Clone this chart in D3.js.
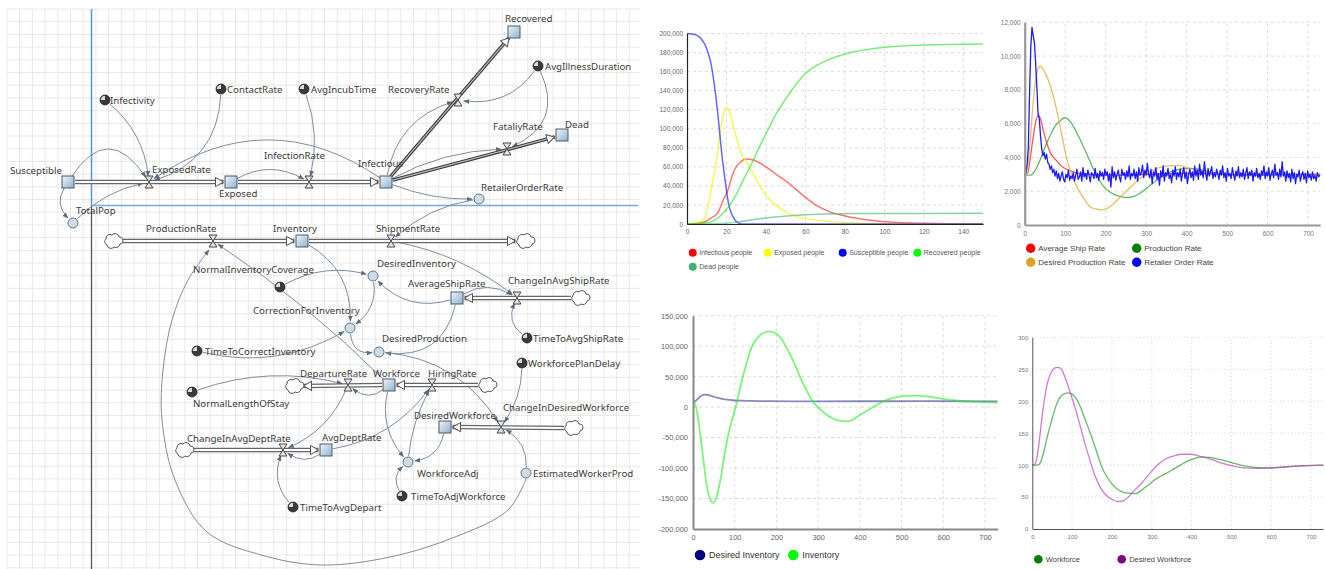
<!DOCTYPE html>
<html><head><meta charset="utf-8">
<script src="https://cdn.jsdelivr.net/npm/d3@7"></script>
<style>
html,body{margin:0;padding:0;background:#fff;}
svg{display:block;}
</style></head><body>
<svg id="c" width="1325" height="569"></svg>
<script>
// ================= DIAGRAM DATA =================
const stocks = [
 ["Susceptible",68,182],["Exposed",231,182],["Infectious",386,182],["Recovered",514,32],["Dead",562,135],
 ["Inventory",302,241],["AverageShipRate",457,298],["Workforce",389,385],["DesiredWorkforce",445,427],["AvgDeptRate",326,450]
];
const valves = [
 ["ExposedRate",149,182],["InfectionRate",309,182],["RecoveryRate",458,100],["FataliyRate",507,149],
 ["ProductionRate",213,241],["ShipmentRate",391,241],["ChangeInAvgShipRate",517,298],
 ["DepartureRate",348,385],["HiringRate",432,385],["ChangeInDesiredWorkforce",501,427],["ChangeInAvgDeptRate",283,450]
];
const converters = [
 ["TotalPop",73,223],["RetailerOrderRate",479,199],["DesiredInventory",373,276],["CorrectionForInventory",350,328],
 ["DesiredProduction",379,352],["WorkforceAdj",408,462],["EstimatedWorkerProd",526,473]
];
const constants = [
 ["Infectivity",105,100],["ContactRate",221,89],["AvgIncubTime",304,89],["AvgIllnessDuration",538,66],
 ["NormalInventoryCoverage",280,287],["TimeToCorrectInventory",197,351],["TimeToAvgShipRate",527,338],
 ["WorkforcePlanDelay",522,363],["NormalLengthOfStay",192,392],["TimeToAdjWorkforce",402,496],["TimeToAvgDepart",293,507]
];
const clouds = [["c1",113,241],["c2",525,241],["c3",580,298],["c4",294,386],["c5",487,385],["c6",573,428],["c7",184,450]];
const diagramLabels = [
 ["Susceptible",10,174],["ExposedRate",152,173],["Exposed",219,197],["Infectivity",110,104],["ContactRate",227,93],
 ["AvgIncubTime",311,93],["InfectionRate",264,159],["Infectious",358,167],["Recovered",505,22],["AvgIllnessDuration",545,69.5],
 ["RecoveryRate",388,93],["FataliyRate",493,130],["Dead",565,128],["RetailerOrderRate",481,191],["TotalPop",76,214],
 ["ProductionRate",146,232],["Inventory",273,232],["ShipmentRate",376,232],["NormalInventoryCoverage",193,273],
 ["DesiredInventory",377,267],["AverageShipRate",408,287],["ChangeInAvgShipRate",508,284],["CorrectionForInventory",253,314],
 ["TimeToAvgShipRate",533,342],["DesiredProduction",382,342],["TimeToCorrectInventory",205,354.5],["WorkforcePlanDelay",528,366.5],
 ["DepartureRate",300,377],["Workforce",373,377],["HiringRate",428,377],["NormalLengthOfStay",193,407],
 ["DesiredWorkforce",414,419],["ChangeInDesiredWorkforce",503,411],["ChangeInAvgDeptRate",187,442],["AvgDeptRate",322,440.5],
 ["WorkforceAdj",417,477],["EstimatedWorkerProd",533,477],["TimeToAdjWorkforce",411,500],["TimeToAvgDepart",300,511]
];
const pipes = [["Susceptible","Exposed"],["Exposed","Infectious"],["Infectious","Recovered"],["Infectious","Dead"],
 ["c1","Inventory"],["Inventory","c2"],["c3","AverageShipRate"],["Workforce","c4"],["c5","Workforce"],
 ["c6","DesiredWorkforce"],["c7","AvgDeptRate"]];
const links = [
 ["Susceptible","ExposedRate",0.75],["Infectivity","ExposedRate",0.2],["ContactRate","ExposedRate",0.35],
 ["TotalPop","ExposedRate",0.15],["Susceptible","TotalPop",-0.4],["Infectious","ExposedRate",-0.34],
 ["Exposed","InfectionRate",0.28],["AvgIncubTime","InfectionRate",0.15],["Infectious","RecoveryRate",0.3],
 ["AvgIllnessDuration","RecoveryRate",0.3],["AvgIllnessDuration","FataliyRate",0.5],["Infectious","FataliyRate",0.12],
 ["Infectious","RetailerOrderRate",-0.1],["RetailerOrderRate","ShipmentRate",-0.15],["Inventory","CorrectionForInventory",0.3],
 ["NormalInventoryCoverage","DesiredInventory",0.2],["AverageShipRate","DesiredInventory",0.3],
 ["DesiredInventory","CorrectionForInventory",0.3],["TimeToCorrectInventory","CorrectionForInventory",-0.2],
 ["CorrectionForInventory","DesiredProduction",-0.5],["AverageShipRate","DesiredProduction",0.45],
 ["Workforce","ProductionRate",-0.05],["DesiredProduction","ChangeInDesiredWorkforce",0.25],
 ["EstimatedWorkerProd","ChangeInDesiredWorkforce",-0.3],["WorkforcePlanDelay","ChangeInDesiredWorkforce",0.15],
 ["DesiredWorkforce","WorkforceAdj",0.35],["Workforce","WorkforceAdj",-0.25],["WorkforceAdj","HiringRate",0.1],
 ["AvgDeptRate","HiringRate",-0.2],["TimeToAdjWorkforce","WorkforceAdj",0.4],["Workforce","DepartureRate",0.4],
 ["NormalLengthOfStay","DepartureRate",0.15],["DepartureRate","ChangeInAvgDeptRate",0.2],
 ["AvgDeptRate","ChangeInAvgDeptRate",0.35],["TimeToAvgDepart","ChangeInAvgDeptRate",0.3],
 ["ShipmentRate","ChangeInAvgShipRate",0.12],["AverageShipRate","ChangeInAvgShipRate",0.3],
 ["TimeToAvgShipRate","ChangeInAvgShipRate",0.4]
];
const bigArcWaypoints = [[526,479],[508,510],[455,537],[390,557],[322,565],[265,556],[207,532],[175,480],[162,420],[163,370],[172,320],[188,280],[209,250]];

// ================= CHART DATA =================
// Chart 1 (SEIR)
const chart1Names = ["Infectious people","Exposed people","Susceptible people","Recovered people","Dead people"];
const chart1Colors = ["#ff0000","#ffff00","#0000ff","#00ff00","#3cb371"];
const infectious = [[0,0],[6,700],[9,2400],[12,6000],[15.7,12000],[18.3,25000],[20.8,36000],[22.5,48000],[24.2,57500],[27,65000],[30,68200],[34,67000],[40,60000],[46,51000],[52,42000],[60,28000],[66,19000],[72,13000],[80,8500],[86,6000],[95,3500],[103,2000],[110,1200],[120,700],[134,200],[150,0]];
const exposed = [[0,0],[5,1500],[8,4000],[10,12000],[11.5,28000],[13,45000],[15.2,70000],[16.9,98000],[18.6,116000],[20.3,122500],[21.5,118000],[22.8,109000],[24,98000],[25.4,88000],[27.9,72400],[30.4,64500],[33,55000],[38,36000],[43,23500],[50,13000],[56,7500],[62,5000],[70,3000],[80,1500],[95,500],[110,0],[150,0]];
const susceptible = [[0,200000],[4,199000],[7,195000],[10,184000],[12,170000],[14,144000],[16,108000],[17.6,74000],[19.3,46000],[21,22000],[22.5,11000],[24.4,4000],[26,1000],[28,0],[150,0]];
const recovered = [[0,0],[10,1000],[14,4000],[17.6,10000],[21,18000],[24.2,28000],[28,44000],[32.7,63000],[36,78000],[41.1,99000],[45,115000],[49.6,130000],[55,146000],[60,158000],[69,170000],[81,179000],[94,184000],[103,186000],[120,188000],[150,189000]];
const dead = [[0,0],[15,300],[20,700],[25,1700],[30,3500],[35,5000],[40,6300],[46,7500],[52,8600],[60,9700],[70,10500],[85,11000],[150,11200]];
const chart1XTicks = [0,20,40,60,80,100,120,140];
const chart1YTicks = [0,20000,40000,60000,80000,100000,120000,140000,160000,180000,200000];

// Chart 2 (supply chain rates)
const chart2Names = ["Average Ship Rate","Production Rate","Desired Production Rate","Retailer Order Rate"];
const chart2Colors = ["#ff0000","#008000","#daa520","#0000ff"];
const averageShipRate = [[0,3000],[8,3100],[13,3850],[21,5200],[28,6200],[34,6500],[40,6200],[46,5600],[54,4900],[63,4300],[71,4000],[79,3800],[90,3500],[104,3300],[120,3150],[137,3050],[160,3000],[200,2950],[260,2950],[300,3000],[400,3050],[500,3000],[730,3000]];
const productionRate = [[0,3000],[8,2950],[15,2950],[25,3200],[38,3850],[50,4600],[63,5300],[75,5850],[87,6150],[98,6350],[110,6200],[120,5850],[133,5250],[145,4650],[158,3950],[170,3300],[182,2750],[194,2300],[210,1950],[227,1750],[243,1650],[256,1630],[270,1700],[285,1880],[305,2250],[326,2650],[346,2980],[367,3200],[388,3320],[410,3350],[430,3300],[450,3180],[480,3050],[520,2950],[570,2930],[620,2970],[730,3000]];
const desiredProductionRate = [[0,3000],[6,3300],[13,4800],[20,7000],[26,8400],[32,9200],[39,9400],[46,9200],[58,8600],[70,7700],[79,6800],[92,5300],[104,3900],[116,3000],[128,2300],[145,1600],[161,1100],[175,950],[190,900],[205,1000],[219,1250],[240,1750],[260,2200],[290,2850],[326,3350],[360,3520],[385,3500],[408,3350],[440,3150],[480,3000],[550,2950],[620,3000],[730,3000]];
const retailerTimeStep = 3;
const retailerOrderRate = [3000,3100,3600,4600,7800,10500,11700,11200,10800,9600,8200,6600,6300,5300,4500,4100,4300,3900,4200,3700,3600,3300,3500,3100,3300,2900,3200,
 2750,3050,2600,2900,3150,2700,2550,3000,2800,3250,2650,2900,2750,3100,2600,2950,3300,2700,2850,
 3150,2600,3400,2850,3050,2700,3250,2950,2550,3100,3000,2750,3350,2800,3050,2650,3200,2900,3100,
 2700,3300,2950,3150,2600,3050,2250,3450,2800,3150,2650,3000,3250,2850,2550,3300,2950,3100,2700,
 3200,2850,3500,2700,3050,2900,3300,2750,3150,2600,3400,2950,3100,3550,2800,3250,2950,3650,3000,
 2800,3300,2450,3150,2900,3400,2700,3050,2350,3200,2850,3500,2600,3100,2900,3350,2750,3000,2500,
 3250,2900,3450,2700,3100,2850,3300,2600,3050,3400,2750,3150,2450,3000,3300,2800,3150,2650,3500,
 2900,3250,2700,3600,2950,3200,2800,3750,3050,2650,3350,2900,3150,3450,2750,3100,2850,3300,3000,
 2700,3250,2950,3500,2800,3100,2600,3350,2900,3050,2750,3400,3000,2650,3200,2900,3450,2800,3100,
 2850,3300,2700,3050,3400,2750,3150,2950,3250,2600,3100,2900,3350,2800,3050,2700,3200,2950,3500,
 2750,3150,2900,3400,2650,3050,3250,2800,3600,2950,3100,2700,3300,2850,3750,2900,3150,2600,3200,
 2800,3050,2550,3300,2750,3100,2450,3000,2850,3250,2600,2950,3150,2700,3050,2500,3200,2800,3000,
 2650,3150,2750,2950,2600,3100,2850,2950];
const timeTicks = [0,100,200,300,400,500,600,700];
const chart2YTicks = [0,2000,4000,6000,8000,10000,12000];

// Chart 3 (inventory)
const chart3Names = ["Desired Inventory","Inventory"];
const chart3Colors = ["#000080","#00ff00"];
const desiredInventory = [[0,9500],[5,10000],[10,12500],[16,16500],[22,19500],[28,20500],[34,20000],[42,18800],[50,17000],[60,15000],[70,13500],[82,12200],[95,11300],[112,10700],[140,10200],[180,9700],[250,9500],[400,9600],[550,9700],[730,9500]];
const inventory = [[0,9000],[4,7000],[8,-2000],[12,-18000],[16.8,-42000],[24.8,-86000],[32.8,-128000],[40.8,-150000],[48.7,-157000],[56.7,-147000],[62,-132000],[68.7,-108000],[74,-85000],[80.7,-58000],[88,-35000],[96.7,-14000],[104,5000],[112.7,30000],[120,52000],[128.7,72000],[136,90000],[144.6,104000],[156,115000],[168.6,121500],[180,124000],[188.6,124000],[198,121000],[208.6,115000],[220,103000],[232.5,87000],[244,70000],[256.5,50000],[268,33000],[280.5,17000],[290,7000],[300.5,-1000],[310,-7000],[320.5,-12500],[332,-17500],[344,-21000],[358,-23000],[372,-23500],[385,-20000],[400,-13000],[424,-3000],[440,3500],[456,9300],[472,13500],[488,16400],[510,18300],[536,18800],[560,17500],[585,15000],[616,12000],[640,10500],[656,9300],[680,8500],[700,7800],[730,7500]];
const chart3YTicks = [-200000,-150000,-100000,-50000,0,50000,100000,150000];

// Chart 4 (workforce)
const chart4Names = ["Workforce","Desired Workforce"];
const chart4Colors = ["#008000","#800080"];
const workforce = [[0,100],[10,100],[17,101],[25,112],[32,129],[40,150],[48.6,170],[57,188],[65.3,202],[76,210],[90,213],[98,212],[107,207],[116,198],[124,186],[136,166],[149,144],[162,120],[174,98],[186,83],[199,71.5],[212,63],[224,58.5],[240,56],[256,55.5],[266,57],[275,61],[290,68],[308,77],[330,85],[350,92],[372,100],[392,107],[410,111],[425,113],[445,112],[475,108],[500,104],[526,99.5],[560,96.5],[600,95.5],[640,97],[680,99],[731,100]];
const desiredWorkforce = [[0,100],[6,101],[11,110],[17,135],[23.4,170],[31,205],[40,233],[50,248],[61,253],[70,252],[82,238],[94,216],[107,191],[120,162],[132,134],[145,107],[157,84],[170,66],[181,56],[191,50],[204,45],[216,43],[228,44],[241,50],[256,60],[275,72],[295,87],[316,101],[336,110],[358,115],[377,117],[395,117],[410,116],[425,113],[450,109],[476,103],[500,99],[526,96],[555,95],[585,95.5],[615,96.5],[660,98.5],[731,100]];
const chart4YTicks = [0,50,100,150,200,250,300];

// ================= DRAW DIAGRAM =================
const svg = d3.select("#c");
const defs = svg.append("defs");
defs.append("marker").attr("id","arr").attr("viewBox","0 0 10 10").attr("refX",9).attr("refY",5)
  .attr("markerWidth",6).attr("markerHeight",6).attr("markerUnits","userSpaceOnUse").attr("orient","auto")
  .append("path").attr("d","M0,1L10,5L0,9z").attr("fill","#5b6c7d");
const sg = defs.append("linearGradient").attr("id","sg").attr("x1",0).attr("y1",0).attr("x2",1).attr("y2",1);
sg.append("stop").attr("offset",0).attr("stop-color","#eef5fa");
sg.append("stop").attr("offset",1).attr("stop-color","#8fb1cc");

const dg = svg.append("g");
// grid
const gx = d3.range(7, 641, 12.7), gy = d3.range(9, 570, 12.7);
dg.append("g").attr("stroke","#e3e3e3").attr("stroke-width",0.8).selectAll("line").data(gx).join("line")
  .attr("x1",d=>d).attr("x2",d=>d).attr("y1",9).attr("y2",569);
dg.append("g").attr("stroke","#e3e3e3").attr("stroke-width",0.8).selectAll("line").data(gy).join("line")
  .attr("y1",d=>d).attr("y2",d=>d).attr("x1",7).attr("x2",640);
// origin lines
dg.append("line").attr("x1",91.5).attr("x2",91.5).attr("y1",9).attr("y2",205.5).attr("stroke","#5b9bd5").attr("stroke-width",1.6);
dg.append("line").attr("x1",91.5).attr("x2",91.5).attr("y1",205.5).attr("y2",569).attr("stroke","#555").attr("stroke-width",1.3);
dg.append("line").attr("x1",91.5).attr("x2",638).attr("y1",205.5).attr("y2",205.5).attr("stroke","#7aa7d6").attr("stroke-width",1.6);

const nodes = {};
stocks.forEach(d=>nodes[d[0]]={x:d[1],y:d[2],r:7});
valves.forEach(d=>nodes[d[0]]={x:d[1],y:d[2],r:5});
converters.forEach(d=>nodes[d[0]]={x:d[1],y:d[2],r:6});
constants.forEach(d=>nodes[d[0]]={x:d[1],y:d[2],r:6});
clouds.forEach(d=>nodes[d[0]]={x:d[1],y:d[2],r:9});

function toward(p, q, dist){
  const dx=q[0]-p[0], dy=q[1]-p[1], L=Math.hypot(dx,dy)||1;
  return [p[0]+dx/L*dist, p[1]+dy/L*dist];
}
// links
const lg = dg.append("g").attr("fill","none").attr("stroke","#7d8ea0").attr("stroke-width",1);
links.forEach(([f,t,b])=>{
  const a=nodes[f], c=nodes[t];
  const dx=c.x-a.x, dy=c.y-a.y;
  const cx=(a.x+c.x)/2+b*dy, cy=(a.y+c.y)/2-b*dx;
  const s=toward([a.x,a.y],[cx,cy],a.r), e=toward([c.x,c.y],[cx,cy],c.r+1);
  lg.append("path").attr("d",`M${s[0]},${s[1]}Q${cx},${cy} ${e[0]},${e[1]}`).attr("marker-end","url(#arr)");
});
lg.append("path").datum(bigArcWaypoints).attr("d",d3.line().curve(d3.curveCatmullRom)).attr("marker-end","url(#arr)");

// pipes
const pg = dg.append("g");
pipes.forEach(([f,t])=>{
  const a=nodes[f], c=nodes[t];
  const s=toward([a.x,a.y],[c.x,c.y],a.r), e=toward([c.x,c.y],[a.x,a.y],c.r+0.5);
  const dark = f==="Infectious";
  pg.append("line").attr("x1",s[0]).attr("y1",s[1]).attr("x2",e[0]).attr("y2",e[1]).attr("stroke",dark?"#3a3a3a":"#666").attr("stroke-width",dark?3.4:4.5);
  pg.append("line").attr("x1",s[0]).attr("y1",s[1]).attr("x2",e[0]).attr("y2",e[1]).attr("stroke",dark?"#b8b8b8":"#fff").attr("stroke-width",dark?1.2:2);
  const ang=Math.atan2(e[1]-s[1],e[0]-s[0])*180/Math.PI;
  pg.append("path").attr("transform",`translate(${e[0]},${e[1]}) rotate(${ang})`)
    .attr("d","M0,0L-8,-4.5L-8,4.5Z").attr("fill","#fff").attr("stroke","#555").attr("stroke-width",1);
});
// clouds
dg.append("g").selectAll("path").data(clouds).join("path")
  .attr("transform",d=>`translate(${d[1]},${d[2]})`)
  .attr("d","M-6,4 A3.5,3.5 0 0,1 -7,-2 A4,4 0 0,1 -1,-6 A4,4 0 0,1 6,-4 A3.5,3.5 0 0,1 7,3 A4,4 0 0,1 1,6 A4,4 0 0,1 -6,4 Z")
  .attr("fill","#fff").attr("stroke","#555").attr("stroke-width",1);
// valves
dg.append("g").selectAll("path").data(valves).join("path")
  .attr("transform",d=>`translate(${d[1]},${d[2]})`)
  .attr("d","M-4,-6L4,-6L-4,6L4,6Z").attr("fill","#e6e6e6").attr("stroke","#444").attr("stroke-width",1);
// stocks
dg.append("g").selectAll("rect").data(stocks).join("rect")
  .attr("x",d=>d[1]-6).attr("y",d=>d[2]-6).attr("width",12).attr("height",12)
  .attr("fill","url(#sg)").attr("stroke","#4a5a6a").attr("stroke-width",1);
// converters
dg.append("g").selectAll("circle").data(converters).join("circle")
  .attr("cx",d=>d[1]).attr("cy",d=>d[2]).attr("r",5).attr("fill","#cfdbe5").attr("stroke","#66798b").attr("stroke-width",1);
// constants
const cg = dg.append("g").selectAll("g").data(constants).join("g").attr("transform",d=>`translate(${d[1]},${d[2]})`);
cg.append("circle").attr("r",5).attr("fill","#3a3a3a").attr("stroke","#222").attr("stroke-width",0.8);
cg.append("path").attr("d","M0,0L0,-4.2A4.2,4.2 0 0,0 -4.2,0Z").attr("fill","#dcdcdc");
// labels
dg.append("g").attr("font-family","'Noto Sans', 'Open Sans', sans-serif").attr("font-size",9.7).attr("fill","#3c3c3c")
  .selectAll("text").data(diagramLabels).join("text").attr("x",d=>d[1]).attr("y",d=>d[2]).text(d=>d[0]);

// ================= CHARTS =================
const fmt = v => d3.format(",")(v).replace("\u2212","-");
function drawChart(c){
  const x=d3.scaleLinear().domain(c.xDomain).range(c.xRange);
  const y=d3.scaleLinear().domain(c.yDomain).range(c.yRange);
  const g=svg.append("g");
  g.append("g").attr("stroke",c.gridColor).attr("stroke-width",0.8).attr("stroke-dasharray",c.dash)
    .selectAll("line").data(c.xTicks.filter(t=>t!==c.xDomain[0])).join("line")
    .attr("x1",d=>x(d)).attr("x2",d=>x(d)).attr("y1",c.yRange[0]).attr("y2",c.yRange[1]);
  g.append("g").attr("stroke",c.gridColor).attr("stroke-width",0.8).attr("stroke-dasharray",c.dash)
    .selectAll("line").data(c.yTicks.filter(t=>t!==c.yDomain[0])).join("line")
    .attr("y1",d=>y(d)).attr("y2",d=>y(d)).attr("x1",c.xRange[0]).attr("x2",c.xRange[1]);
  const line=d3.line().x(d=>x(d[0])).y(d=>y(d[1])).curve(c.curve||d3.curveMonotoneX);
  c.series.forEach(s=>{
    g.append("path").datum(s.data).attr("d",s.linear?d3.line().x(d=>x(d[0])).y(d=>y(d[1]))(s.data):line(s.data))
      .attr("fill","none").attr("stroke",s.stroke).attr("stroke-width",s.width).attr("stroke-opacity",s.opacity)
      .attr("stroke-linejoin","round");
  });
  const xa=g.append("g").attr("transform",`translate(0,${c.yRange[0]})`)
    .call(d3.axisBottom(x).tickValues(c.xTicks).tickSize(0).tickPadding(c.xPad).tickFormat(fmt));
  const ya=g.append("g").attr("transform",`translate(${c.xRange[0]},0)`)
    .call(d3.axisLeft(y).tickValues(c.yTicks).tickSize(0).tickPadding(c.yPad).tickFormat(fmt));
  [xa,ya].forEach(a=>{
    a.select(".domain").attr("stroke",c.axisColor).attr("stroke-width",c.axisWidth);
    a.selectAll("text").attr("font-size",c.fs).attr("fill",c.tickColor).attr("font-family","'Liberation Sans', Arial, sans-serif");
  });
  c.legend.forEach((p,i)=>{
    const s=c.series[c.legendOrder[i]];
    g.append("circle").attr("cx",p[0]).attr("cy",p[1]).attr("r",c.lr).attr("fill",s.color);
    g.append("text").attr("x",p[0]+c.lto).attr("y",p[1]).attr("dy","0.35em").attr("font-size",c.lfs)
      .attr("fill",c.lColor).attr("font-family","'Liberation Sans', Arial, sans-serif").text(s.name);
  });
}

drawChart({
  xDomain:[0,150], xRange:[687,983], yDomain:[0,200000], yRange:[224,33.5],
  xTicks:chart1XTicks, yTicks:chart1YTicks, gridColor:"#d4d4d4", dash:"3,3",
  axisColor:"#222", axisWidth:1.2, fs:6.5, tickColor:"#666", xPad:5, yPad:4,
  series:[
    {name:chart1Names[0],color:chart1Colors[0],data:infectious,stroke:chart1Colors[0],width:1.5,opacity:0.55},
    {name:chart1Names[1],color:chart1Colors[1],data:exposed,stroke:"#f2f200",width:1.5,opacity:0.65},
    {name:chart1Names[2],color:chart1Colors[2],data:susceptible,stroke:chart1Colors[2],width:1.5,opacity:0.6},
    {name:chart1Names[3],color:chart1Colors[3],data:recovered,stroke:"#22dd22",width:1.5,opacity:0.6},
    {name:chart1Names[4],color:chart1Colors[4],data:dead,stroke:chart1Colors[4],width:1.5,opacity:0.6}
  ],
  legend:[[692.7,252.7],[767.7,252.7],[842.7,252.7],[917.3,252.7],[692.7,266.7]], legendOrder:[0,1,2,3,4],
  lr:4, lto:6.5, lfs:7, lColor:"#555"
});

drawChart({
  xDomain:[0,730], xRange:[1024.7,1320.2], yDomain:[0,12000], yRange:[225,22.3],
  xTicks:timeTicks, yTicks:chart2YTicks, gridColor:"#d4d4d4", dash:"3,3",
  axisColor:"#999", axisWidth:2.2, fs:6.5, tickColor:"#777", xPad:6, yPad:4,
  series:[
    {name:chart2Names[0],color:chart2Colors[0],data:averageShipRate,stroke:"#ee2222",width:1.3,opacity:0.75},
    {name:chart2Names[1],color:chart2Colors[1],data:productionRate,stroke:"#229922",width:1.3,opacity:0.7},
    {name:chart2Names[2],color:chart2Colors[2],data:desiredProductionRate,stroke:"#e0a830",width:1.3,opacity:0.75},
    {name:chart2Names[3],color:chart2Colors[3],data:retailerOrderRate.map((v,i)=>[i*retailerTimeStep,v]),stroke:"#1010ff",width:1.3,opacity:0.95,linear:true}
  ],
  legend:[[1030.7,248.3],[1136.7,248.3],[1030.7,262.3],[1136.7,262.3]], legendOrder:[0,1,2,3],
  lr:4.7, lto:7.5, lfs:8, lColor:"#444"
});

drawChart({
  xDomain:[0,730], xRange:[693,997.5], yDomain:[-200000,150000], yRange:[529,315.7],
  xTicks:timeTicks, yTicks:chart3YTicks, gridColor:"#d4d4d4", dash:"3,3",
  axisColor:"#888", axisWidth:2, fs:7.5, tickColor:"#666", xPad:6, yPad:5,
  series:[
    {name:chart3Names[0],color:chart3Colors[0],data:desiredInventory,stroke:"#3a3a90",width:1.8,opacity:0.6},
    {name:chart3Names[1],color:chart3Colors[1],data:inventory,stroke:"#22ee22",width:1.8,opacity:0.6}
  ],
  legend:[[700,555],[793.3,555]], legendOrder:[0,1],
  lr:5.3, lto:9, lfs:9, lColor:"#333"
});

drawChart({
  xDomain:[0,730], xRange:[1032.3,1323], yDomain:[0,300], yRange:[529,337.3],
  xTicks:timeTicks, yTicks:chart4YTicks, gridColor:"#cfcfcf", dash:"1.2,2.5",
  axisColor:"#555", axisWidth:1, fs:6, tickColor:"#777", xPad:6, yPad:4,
  series:[
    {name:chart4Names[0],color:chart4Colors[0],data:workforce,stroke:"#2a9a2a",width:1.3,opacity:0.7},
    {name:chart4Names[1],color:chart4Colors[1],data:desiredWorkforce,stroke:"#bb44bb",width:1.3,opacity:0.7}
  ],
  legend:[[1038.3,559.3],[1121.7,559.3]], legendOrder:[0,1],
  lr:4.3, lto:7.5, lfs:7.5, lColor:"#444"
});
</script>
</body></html>
